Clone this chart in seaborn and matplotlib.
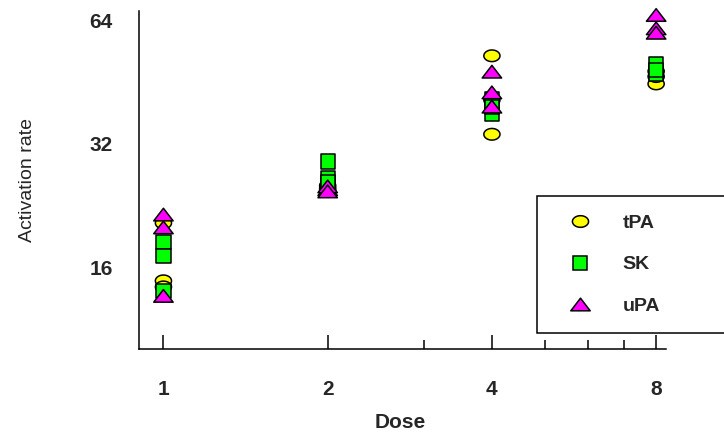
import numpy as np
import pandas as pd
import matplotlib
matplotlib.use("Agg")
import matplotlib.pyplot as plt
import seaborn as sns
from matplotlib.path import Path
from matplotlib.ticker import FixedLocator, NullLocator, NullFormatter, FixedFormatter

# ---- data ----
drugs = ["tPA", "SK", "uPA"]
doses = [1, 1, 1, 2, 2, 2, 4, 4, 4, 8, 8, 8]
tpa = [20.5, 14.8, 14.3, 25.3, 24.9, 24.6, 52.6, 33.8, 41.0, 44.9, 46.8, 48.2]
sk = [18.4, 17.0, 14.0, 29.0, 26.4, 25.8, 41.2, 37.9, 39.5, 50.2, 47.4, 48.5]
upa = [21.5, 20.0, 13.6, 24.8, 25.2, 24.5, 48.1, 42.8, 39.5, 66.2, 61.4, 59.9]
x_ticks = [1, 2, 4, 8]
x_minor = [3, 5, 6, 7]
y_ticks = [16, 32, 64]

df = pd.DataFrame({
    "Dose": doses * 3,
    "Rate": tpa + sk + upa,
    "Drug": ["tPA"] * len(tpa) + ["SK"] * len(sk) + ["uPA"] * len(upa),
})

# ---- marker shapes ----
th = np.linspace(0, 2 * np.pi, 65)
ell_verts = np.column_stack([np.cos(th), 0.72 * np.sin(th)])
ellipse = Path(ell_verts, closed=True)
tri = Path([(0, 0.65), (-1, -0.65), (1, -0.65), (0, 0.65)], closed=True)

markers = {"tPA": ellipse, "SK": "s", "uPA": tri}
palette = {"tPA": "#FFFF00", "SK": "#00FF00", "uPA": "#FF00FF"}
sizes = {"tPA": 135, "SK": 105, "uPA": 195}

sns.set_style("white")
plt.rcParams["font.family"] = ["Liberation Sans", "DejaVu Sans"]

fig = plt.figure(figsize=(7.24, 4.33), dpi=100)
ax = fig.add_axes([139 / 724, 1 - 349 / 433, 527 / 724, 338 / 433])

sns.scatterplot(data=df, x="Dose", y="Rate", hue="Drug", style="Drug", size="Drug",
                hue_order=drugs, style_order=drugs, size_order=drugs,
                palette=palette, markers=markers, sizes=sizes,
                edgecolor="black", linewidth=1.1, alpha=1, clip_on=False, ax=ax)

ax.set_xscale("log", base=2)
ax.set_yscale("log", base=2)
ax.set_xlim(0.902, 8.34)
ax.set_ylim(10.08, 67.7)

ax.xaxis.set_major_locator(FixedLocator(x_ticks))
ax.xaxis.set_major_formatter(FixedFormatter([str(v) for v in x_ticks]))
ax.xaxis.set_minor_locator(FixedLocator(x_minor))
ax.xaxis.set_minor_formatter(NullFormatter())
ax.yaxis.set_major_locator(FixedLocator(y_ticks))
ax.yaxis.set_major_formatter(FixedFormatter([str(v) for v in y_ticks]))
ax.yaxis.set_minor_locator(NullLocator())

ax.tick_params(axis="x", which="both", bottom=True)
ax.tick_params(axis="x", which="major", direction="in", length=10, width=1.1,
               color="black", pad=22, labelsize=15)
ax.tick_params(axis="x", which="minor", direction="in", length=6.5, width=1.1, color="black")
ax.tick_params(axis="y", which="major", length=0, pad=19, labelsize=15)
for lab in ax.get_xticklabels() + ax.get_yticklabels():
    lab.set_fontweight("bold")

for s in ["top", "right"]:
    ax.spines[s].set_visible(False)
for s in ["left", "bottom"]:
    ax.spines[s].set_linewidth(1.1)
    ax.spines[s].set_color("black")

ax.set_xlabel("Dose", fontsize=15, fontweight="bold")
ax.set_ylabel("Activation rate", fontsize=14)
ax.xaxis.set_label_coords((400 - 139) / 527, (349 - 413) / 338)
ax.yaxis.set_label_coords((36 - 139) / 527, 0.5)

handles, labels = ax.get_legend_handles_labels()
keep = [(h, l) for h, l in zip(handles, labels) if l in drugs]
ax.legend([h for h, _ in keep], [l for _, l in keep], loc="upper left",
          bbox_to_anchor=(537 / 724, 1 - 196 / 433, (790 - 537) / 724, 0),
          bbox_transform=fig.transFigure, mode="expand", borderaxespad=0,
          frameon=True, fancybox=False, edgecolor="black", framealpha=1,
          borderpad=0.95, handlelength=2.5, handletextpad=0.95, labelspacing=1.22,
          prop={"weight": "bold", "size": 14})
ax.get_legend().get_frame().set_linewidth(1.1)

fig.savefig("out.png", dpi=100)
